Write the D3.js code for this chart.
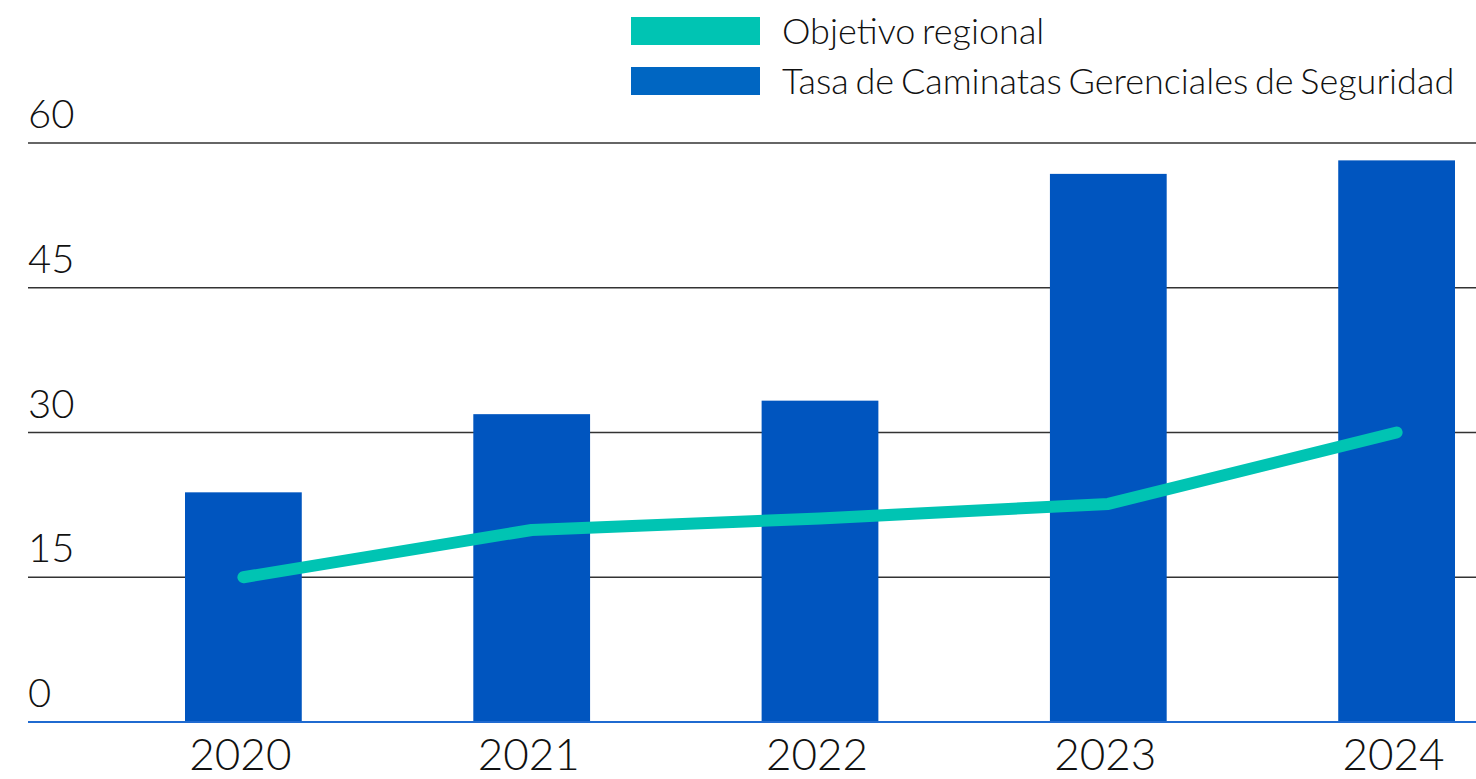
<!DOCTYPE html>
<html>
<head>
<meta charset="utf-8">
<script src="https://cdn.jsdelivr.net/npm/d3@7"></script>
<style>
  html, body { margin: 0; padding: 0; background: #fff; }
  svg { display: block; font-family: Lato, "Open Sans", sans-serif; font-weight: 300; }
</style>
</head>
<body>
<svg id="chart" width="1476" height="779"></svg>
<script>
// data
var years = ['2020', '2021', '2022', '2023', '2024'];
var tasa = [23.8, 31.9, 33.3, 56.8, 58.2];
var objetivo = [15, 19.9, 21.1, 22.6, 30];
var yTicks = [0, 15, 30, 45, 60];
var legendLabels = ['Objetivo regional', 'Tasa de Caminatas Gerenciales de Seguridad'];

var svg = d3.select('#chart');

var x = d3.scaleBand().domain(years).range([185, 1455]).paddingInner(0.595).paddingOuter(0);
var y = d3.scaleLinear().domain([0, 60]).range([722, 143]);

// grid lines + tick labels
var grid = svg.append('g').attr('class', 'grid');
grid.selectAll('line').data(yTicks.filter(function(d) { return d > 0; }))
  .enter().append('line')
  .attr('x1', 28).attr('x2', 1476)
  .attr('y1', function(d) { return y(d); }).attr('y2', function(d) { return y(d); })
  .attr('stroke', '#333').attr('stroke-width', 1.5);

grid.selectAll('text').data(yTicks)
  .enter().append('text')
  .attr('x', 28).attr('y', function(d) { return y(d) - 15; })
  .attr('font-size', 40).attr('fill', '#111')
  .text(function(d) { return d; });

// bars
svg.append('g').selectAll('rect').data(years)
  .enter().append('rect')
  .attr('x', function(d) { return x(d); })
  .attr('width', x.bandwidth())
  .attr('y', function(d, i) { return y(tasa[i]); })
  .attr('height', function(d, i) { return y(0) - y(tasa[i]); })
  .attr('fill', '#0055bf');

// baseline
svg.append('line')
  .attr('x1', 28).attr('x2', 1476).attr('y1', y(0)).attr('y2', y(0))
  .attr('stroke', '#1f6ad0').attr('stroke-width', 2);

// objective line
var line = d3.line()
  .x(function(d, i) { return x(years[i]) + x.bandwidth() / 2; })
  .y(function(d) { return y(d); });

svg.append('path').datum(objetivo)
  .attr('d', line)
  .attr('fill', 'none').attr('stroke', '#00c4b3').attr('stroke-width', 12)
  .attr('stroke-linecap', 'round').attr('stroke-linejoin', 'round');

// x labels
svg.append('g').selectAll('text').data(years)
  .enter().append('text')
  .attr('x', function(d) { return x(d) + x.bandwidth() / 2 - 3; })
  .attr('y', 770)
  .attr('text-anchor', 'middle').attr('font-size', 44).attr('fill', '#111')
  .text(function(d) { return d; });

// legend
var legendColors = ['#00c4b3', '#0066c2'];
var legend = svg.append('g').selectAll('g').data(legendLabels)
  .enter().append('g')
  .attr('transform', function(d, i) { return 'translate(631,' + (17 + i * 50) + ')'; });
legend.append('rect').attr('width', 129).attr('height', 28)
  .attr('fill', function(d, i) { return legendColors[i]; });
legend.append('text').attr('x', 151).attr('y', 27)
  .attr('font-size', 36).attr('word-spacing', -3).attr('fill', '#111')
  .text(function(d) { return d; });
</script>
</body>
</html>
